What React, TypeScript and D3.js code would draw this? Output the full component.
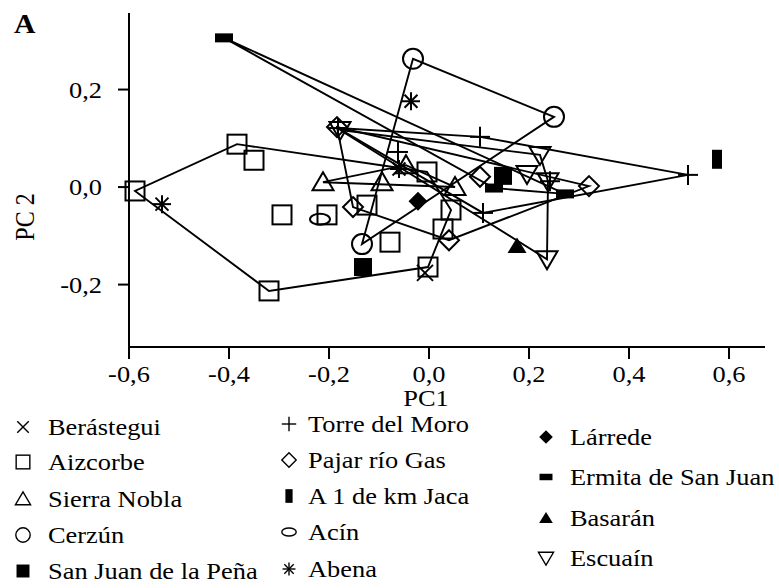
import React from 'react';
import * as d3 from 'd3';

type Pt = [number, number];
type Kind =
  | 'cross' | 'square' | 'triangle' | 'circle' | 'squareFilled' | 'plus' | 'diamond'
  | 'vbar' | 'ellipse' | 'asterisk' | 'diamondFilled' | 'hbar' | 'triangleFilled' | 'triangleDown';

// PC1 / PC2 scores per locality
const berastegui: Pt[] = [[-0.008, -0.176]];
const aizcorbe: Pt[] = [
  [-0.588, -0.008], [-0.384, 0.088], [-0.35, 0.055], [-0.294, -0.057], [-0.204, -0.057],
  [-0.32, -0.213], [-0.002, -0.164], [-0.004, 0.031], [-0.124, -0.037], [0.044, -0.047],
  [0.028, -0.086], [-0.078, -0.113],
];
const sierraNobla: Pt[] = [[-0.212, 0.01], [-0.094, 0.01], [-0.046, 0.045], [0.052, 0.0]];
const cerzun: Pt[] = [[-0.032, 0.263], [0.25, 0.144], [-0.134, -0.117]];
const sanJuanPena: Pt[] = [[-0.132, -0.164], [0.148, 0.023]];
const torreMoro: Pt[] = [
  [-0.182, 0.121], [-0.062, 0.072], [0.102, 0.103], [0.518, 0.025], [0.108, -0.053], [0.242, 0.012],
];
const pajarRioGas: Pt[] = [[-0.184, 0.123], [-0.152, -0.041], [0.04, -0.109], [0.102, 0.021], [0.32, 0.002]];
const km1Jaca: Pt[] = [[0.576, 0.057]];
const acin: Pt[] = [[-0.218, -0.066]];
const abena: Pt[] = [[-0.534, -0.035], [-0.036, 0.176], [-0.06, 0.037]];
const larrede: Pt[] = [[-0.022, -0.029]];
const ermita: Pt[] = [[-0.41, 0.306], [0.13, -0.002], [0.272, -0.014]];
const basaran: Pt[] = [[0.176, -0.121]];
const escuain: Pt[] = [[-0.178, 0.117], [0.222, 0.066], [0.196, 0.027], [0.238, 0.012], [0.236, -0.148]];

const siteNames = [
  'Berástegui', 'Aizcorbe', 'Sierra Nobla', 'Cerzún', 'San Juan de la Peña',
  'Torre del Moro', 'Pajar río Gas', 'A 1 de km Jaca', 'Acín', 'Abena',
  'Lárrede', 'Ermita de San Juan', 'Basarán', 'Escuaín',
];
const siteSymbols: Kind[] = [
  'cross', 'square', 'triangle', 'circle', 'squareFilled',
  'plus', 'diamond', 'vbar', 'ellipse', 'asterisk',
  'diamondFilled', 'hbar', 'triangleFilled', 'triangleDown',
];
const siteScores: Pt[][] = [
  berastegui, aizcorbe, sierraNobla, cerzun, sanJuanPena,
  torreMoro, pajarRioGas, km1Jaca, acin, abena,
  larrede, ermita, basaran, escuain,
];
// localities whose score cloud is outlined by its convex hull
const hulledSites = ['Aizcorbe', 'Sierra Nobla', 'Cerzún', 'Torre del Moro', 'Pajar río Gas', 'Ermita de San Juan', 'Escuaín'];

const xTicks = [-0.6, -0.4, -0.2, 0.0, 0.2, 0.4, 0.6];
const yTicks = [-0.2, 0.0, 0.2];
const xDomain: Pt = [-0.6, 0.672];
const yDomain: Pt = [-0.328, 0.357];

const legendColumns: string[][] = [
  ['Berástegui', 'Aizcorbe', 'Sierra Nobla', 'Cerzún', 'San Juan de la Peña'],
  ['Torre del Moro', 'Pajar río Gas', 'A 1 de km Jaca', 'Acín', 'Abena'],
  ['Lárrede', 'Ermita de San Juan', 'Basarán', 'Escuaín'],
];

const W = 779;
const H = 588;
const FONT = 'Liberation Serif, Tinos, Times New Roman, Times, serif';
const STRETCH = 1.1;

const x = d3.scaleLinear().domain(xDomain).range([129, 765]);
const y = d3.scaleLinear().domain(yDomain).range([347, 13]);

const fmt = (v: number) => d3.format('.1f')(v).replace('\u2212', '-').replace('.', ',');

function Marker({ kind, cx, cy, s = 1, sw = 2 }: { kind: Kind; cx: number; cy: number; s?: number; sw?: number }) {
  const open = { fill: 'none', stroke: '#000', strokeWidth: sw };
  const solid = { fill: '#000', stroke: 'none' };
  switch (kind) {
    case 'cross': {
      const h = 8 * s;
      return (
        <g {...open}>
          <line x1={cx - h} y1={cy - h} x2={cx + h} y2={cy + h} />
          <line x1={cx - h} y1={cy + h} x2={cx + h} y2={cy - h} />
        </g>
      );
    }
    case 'square': {
      const h = 9.5 * s;
      return <rect x={cx - h} y={cy - h} width={2 * h} height={2 * h} {...open} />;
    }
    case 'squareFilled': {
      const h = 9 * s;
      return <rect x={cx - h} y={cy - h} width={2 * h} height={2 * h} {...solid} />;
    }
    case 'triangle':
      return <polygon points={`${cx},${cy - 10 * s} ${cx - 10.5 * s},${cy + 8 * s} ${cx + 10.5 * s},${cy + 8 * s}`} {...open} />;
    case 'triangleDown':
      return <polygon points={`${cx},${cy + 10 * s} ${cx - 10.5 * s},${cy - 8 * s} ${cx + 10.5 * s},${cy - 8 * s}`} {...open} />;
    case 'triangleFilled':
      return <polygon points={`${cx},${cy - 8.5 * s} ${cx - 9.5 * s},${cy + 7 * s} ${cx + 9.5 * s},${cy + 7 * s}`} {...solid} />;
    case 'circle':
      return <circle cx={cx} cy={cy} r={10 * s} {...open} />;
    case 'plus': {
      const h = 10 * s;
      return (
        <g {...open}>
          <line x1={cx - h} y1={cy} x2={cx + h} y2={cy} />
          <line x1={cx} y1={cy - h} x2={cx} y2={cy + h} />
        </g>
      );
    }
    case 'diamond': {
      const h = 10 * s;
      return <polygon points={`${cx},${cy - h} ${cx + h},${cy} ${cx},${cy + h} ${cx - h},${cy}`} {...open} />;
    }
    case 'diamondFilled': {
      const h = 9.5 * s;
      return <polygon points={`${cx},${cy - h} ${cx + h},${cy} ${cx},${cy + h} ${cx - h},${cy}`} {...solid} />;
    }
    case 'vbar':
      return <rect x={cx - 5 * s} y={cy - 9.5 * s} width={10 * s} height={19 * s} {...solid} />;
    case 'hbar':
      return <rect x={cx - 9 * s} y={cy - 4.5 * s} width={18 * s} height={9 * s} {...solid} />;
    case 'ellipse':
      return <ellipse cx={cx} cy={cy} rx={10 * s} ry={5.5 * s} {...open} />;
    case 'asterisk': {
      const h = 9 * s;
      const d = h * 0.72;
      return (
        <g {...open}>
          <line x1={cx} y1={cy - h} x2={cx} y2={cy + h} />
          <line x1={cx - h} y1={cy} x2={cx + h} y2={cy} />
          <line x1={cx - d} y1={cy - d} x2={cx + d} y2={cy + d} />
          <line x1={cx - d} y1={cy + d} x2={cx + d} y2={cy - d} />
        </g>
      );
    }
  }
  return null;
}

function Label({ x0, y0, text, anchor = 'start', size = 24, weight = 'normal', rotate = 0 }: {
  x0: number; y0: number; text: string; anchor?: 'start' | 'middle' | 'end'; size?: number; weight?: string; rotate?: number;
}) {
  const tf = rotate
    ? `translate(${x0},${y0}) rotate(${rotate}) scale(1,${STRETCH})`
    : `translate(${x0},${y0}) scale(${STRETCH},1)`;
  return (
    <text transform={tf} textAnchor={anchor} style={{ fontFamily: FONT, fontSize: size, fontWeight: weight }} fill="#000">
      {text}
    </text>
  );
}

export default function App() {
  const x0 = x(xDomain[0]);
  const y0 = y(yDomain[0]);

  const hulls = siteNames
    .map((name, i) => ({ name, pts: siteScores[i].map(([a, b]) => [x(a), y(b)] as Pt) }))
    .filter((d) => hulledSites.includes(d.name) && d.pts.length >= 3)
    .map((d) => ({ name: d.name, hull: d3.polygonHull(d.pts) }));

  const legendX = [[23, 48], [289, 308], [546, 570]];
  const legendY = [
    [427, 462, 499, 535, 571],
    [424, 460, 496, 532, 569],
    [437, 477, 518, 558],
  ];

  return (
    <svg width={W} height={H} style={{ position: 'absolute', left: 0, top: 0, background: '#fff' }}>
      <rect x={0} y={0} width={W} height={H} fill="#fff" />

      {/* axes */}
      <line x1={x0} y1={y(yDomain[1])} x2={x0} y2={y0} stroke="#000" strokeWidth={2} />
      <line x1={x0} y1={y0} x2={x(xDomain[1])} y2={y0} stroke="#000" strokeWidth={2} />
      {xTicks.map((t) => (
        <g key={`xt${t}`}>
          <line x1={x(t)} y1={y0} x2={x(t)} y2={y0 + 12} stroke="#000" strokeWidth={2} />
          <Label x0={x(t)} y0={382} text={fmt(t)} anchor="middle" />
        </g>
      ))}
      {yTicks.map((t) => (
        <g key={`yt${t}`}>
          <line x1={x0 - 11} y1={y(t)} x2={x0} y2={y(t)} stroke="#000" strokeWidth={2} />
          <Label x0={102} y0={y(t) + 8} text={fmt(t)} anchor="end" />
        </g>
      ))}
      <Label x0={426} y0={406} text="PC1" anchor="middle" />
      <Label x0={34} y0={217} text="PC 2" anchor="middle" rotate={-90} />
      <Label x0={14} y0={33} text="A" size={27} weight="bold" />

      {/* convex hulls */}
      {hulls.map((h) =>
        h.hull ? (
          <path
            key={`h-${h.name}`}
            d={`M${h.hull.map((p) => p.join(',')).join('L')}Z`}
            fill="none"
            stroke="#000"
            strokeWidth={1.9}
            strokeLinejoin="miter"
          />
        ) : null,
      )}

      {/* scores */}
      {siteNames.map((name, i) =>
        siteScores[i].map(([a, b], j) => (
          <Marker key={`${name}-${j}`} kind={siteSymbols[i]} cx={x(a)} cy={y(b)} />
        )),
      )}

      {/* legend */}
      {legendColumns.map((col, ci) =>
        col.map((name, ri) => {
          const idx = siteNames.indexOf(name);
          return (
            <g key={`lg-${name}`}>
              <Marker kind={siteSymbols[idx]} cx={legendX[ci][0]} cy={legendY[ci][ri]} s={0.72} sw={1.4} />
              <Label x0={legendX[ci][1]} y0={legendY[ci][ri] + 8} text={name} />
            </g>
          );
        }),
      )}
    </svg>
  );
}
